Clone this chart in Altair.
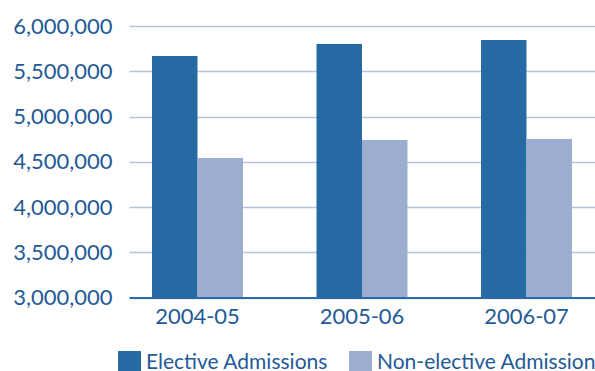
import altair as alt
import pandas as pd

years = ["2004-05", "2005-06", "2006-07"]
series = ["Elective Admissions", "Non-elective Admissions"]
elective = [5668000, 5801000, 5845000]
non_elective = [4541000, 4740000, 4751000]
colors = ["#266aa4", "#9caecf"]

rows = []
for i, y in enumerate(years):
    rows.append({"year": y, "series": series[0], "value": elective[i]})
    rows.append({"year": y, "series": series[1], "value": non_elective[i]})
df = pd.DataFrame(rows)

text_color = "#1f5a96"
font = "Lato"

chart = alt.Chart(df).mark_bar().encode(
    x=alt.X("year:N", sort=years, title=None,
            scale=alt.Scale(paddingInner=0.447, paddingOuter=0.14),
            axis=alt.Axis(labelAngle=0, labelFontSize=22, labelColor=text_color,
                          labelFont=font, ticks=False, domainColor="#2a6aa6",
                          domainWidth=2, labelPadding=9, grid=False, zindex=1)),
    xOffset=alt.XOffset("series:N", sort=series),
    y=alt.Y("value:Q", title=None,
            scale=alt.Scale(domain=[3000000, 6000000], zero=False, nice=False, clamp=True),
            axis=alt.Axis(values=[3000000, 3500000, 4000000, 4500000, 5000000, 5500000, 6000000],
                          format=",d", labelFontSize=22, labelColor=text_color,
                          labelFont=font, ticks=False, domain=False, labelPadding=17,
                          gridColor="#b6c3db", gridWidth=1.6)),
    color=alt.Color("series:N", sort=series,
                    scale=alt.Scale(domain=series, range=colors),
                    legend=alt.Legend(title=None, orient="none", direction="horizontal",
                                      legendX=-11, legendY=325, symbolType="square",
                                      symbolSize=529, symbolStrokeWidth=0,
                                      labelFontSize=21, labelColor=text_color,
                                      labelFont=font, columnPadding=20, labelOffset=5,
                                      symbolOffset=0, labelLimit=400)),
).properties(
    width=466, height=271.5,
    autosize=alt.AutoSizeParams(type="none"),
    padding={"left": 129, "top": 26, "right": 0, "bottom": 73.5},
).configure_view(stroke=None)

chart.save("out.html", embed_options={"renderer": "svg", "actions": False})
